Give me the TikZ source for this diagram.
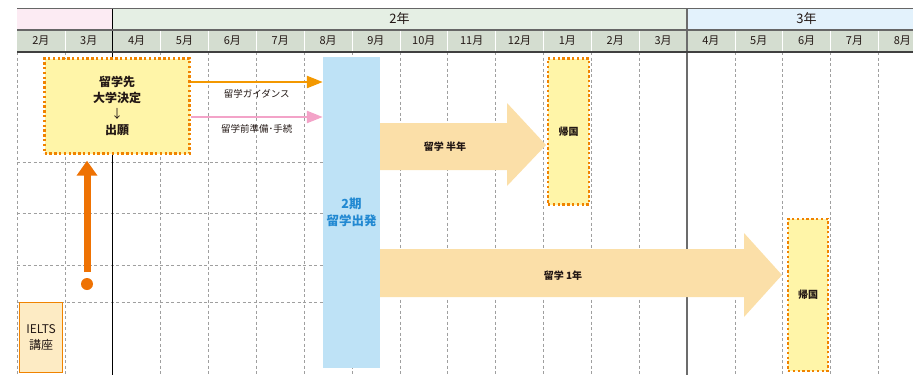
\documentclass[tikz,border=0pt]{standalone}
\usepackage{fontspec}
\setmainfont{Noto Sans CJK JP}
\usetikzlibrary{arrows.meta,positioning}

\definecolor{ink}{HTML}{231815}
\definecolor{yearone}{HTML}{FCEBF3}
\definecolor{yeartwo}{HTML}{E5EFE4}
\definecolor{yearthree}{HTML}{E3F2FC}
\definecolor{monthrow}{HTML}{D4DDD0}
\definecolor{planyellow}{HTML}{FFF5A8}
\definecolor{dotorange}{HTML}{F08300}
\definecolor{guideorange}{HTML}{F39800}
\definecolor{prepink}{HTML}{F3A3C8}
\definecolor{departblue}{HTML}{BEE2F6}
\definecolor{departtext}{HTML}{2289D2}
\definecolor{stayfill}{HTML}{FBDFA8}
\definecolor{pushorange}{HTML}{EE7203}
\definecolor{ieltsfill}{HTML}{FDEBC4}

\begin{document}
\begin{tikzpicture}[x=1pt, y=-1pt,
    every node/.style={text=ink, inner sep=0pt, align=center},
    grid/.style={gray!75, line width=0.7pt, dash pattern=on 3pt off 2.5pt},
    plan/.style={draw=dotorange, fill=planyellow, line width=2.4pt, dash pattern=on 2.4pt off 2.4pt},
    month/.style={font=\fontsize{11}{12}\selectfont},
    year/.style={font=\fontsize{13}{14}\selectfont},
    note/.style={font=\fontsize{9.5}{11}\selectfont},
    tag/.style={font=\bfseries\fontsize{10}{12}\selectfont},
    guide/.style={line width=2.5pt, -{Triangle[length=16pt,width=12pt]}},
    push/.style={draw=pushorange, line width=7pt, -{Triangle[length=15pt,width=20pt]}}]

\useasboundingbox (0,0) rectangle (913,375);
\clip (0,0) rectangle (913,375);

% header
\fill[yearone] (17,8) rectangle (112,30);
\fill[yeartwo] (112,8) rectangle (687,30);
\fill[yearthree] (687,8) rectangle (926,30);
\fill[monthrow] (17,30) rectangle (926,52);
\foreach \i in {1,...,18}
  \draw[white, line width=0.6pt] (17+47.857*\i,30) -- (17+47.857*\i,52);
\foreach \m [count=\i from 0] in {2,3,4,5,6,7,8,9,10,11,12,1,2,3,4,5,6,7,8}
  \node[month] (m\i) at (40.93+47.857*\i,41) {\m 月};
\node[year] (y2) at (399.5,19) {2年};
\node[year] (y3) at (806.5,19) {3年};

% grid
\foreach \i in {0,1,3,4,...,13,15,16,17,18}
  \draw[grid] (17+47.857*\i,52) -- (17+47.857*\i,375);
\foreach \y in {162,213,265,302}
  \draw[grid] (17,\y) -- (323,\y);
\draw[black, line width=1pt] (112,8) -- (112,375);
\draw[gray!85!black, line width=1.5pt] (687,8) -- (687,375);
\draw[gray!80!black, line width=0.8pt] (17,8) -- (926,8);
\draw[gray!80!black, line width=1.2pt] (17,30) -- (926,30);
\draw[black!75, line width=1.6pt] (17,52) -- (926,52);

% plan
\node[plan, minimum width=145pt, minimum height=95pt,
      font=\bfseries\fontsize{12}{16}\selectfont] (decide) at (117,106)
      {留学先\\大学決定\\{\mdseries ↓}\\出願};
\node[fill=departblue, minimum width=57pt, minimum height=311pt, text=departtext,
      font=\bfseries\fontsize{12.5}{17}\selectfont] (depart) at (351.5,212.5) {2期\\留学出発};

\coordinate (gy) at (0,82);
\coordinate (py) at (0,117);
\draw[guide, guideorange] (decide.east |- gy) -- (depart.west |- gy)
  node[note, midway, below=6pt] (lguide) {留学ガイダンス};
\draw[guide, prepink] (decide.east |- py) -- (depart.west |- py)
  node[note, midway, below=6pt] (lprep) {留学前準備･手続};

% stays
\node[plan, minimum width=41pt, minimum height=146pt, font=\bfseries\fontsize{10}{12}\selectfont]
  (back1) at (568.5,131.5) {帰国};
\node[plan, minimum width=40pt, minimum height=152pt, font=\bfseries\fontsize{10}{12}\selectfont]
  (back2) at (808,295) {帰国};
\fill[stayfill] (depart.east |- 0,123) -- (507,123) -- (507,103) -- (546,145)
  -- (507,186) -- (507,170) -- (depart.east |- 0,170) -- cycle;
\node[tag] (half) at (445,147) {留学 半年};
\fill[stayfill] (depart.east |- 0,249) -- (744,249) -- (744,233) -- (782,275)
  -- (744,317) -- (744,297) -- (depart.east |- 0,297) -- cycle;
\node[tag] (year1) at (563,276) {留学 1年};

% IELTS
\node[draw=dotorange, fill=ieltsfill, line width=1pt, minimum width=43pt, minimum height=70pt,
      font=\fontsize{12}{16}\selectfont] (ielts) at (41,337.5) {IELTS\\講座};
\node[circle, fill=pushorange, minimum size=12pt] (start) at (87,284) {};
\draw[push, shorten <=6pt, shorten >=6pt] (start) -- (start |- decide.south);

\end{tikzpicture}
\end{document}
